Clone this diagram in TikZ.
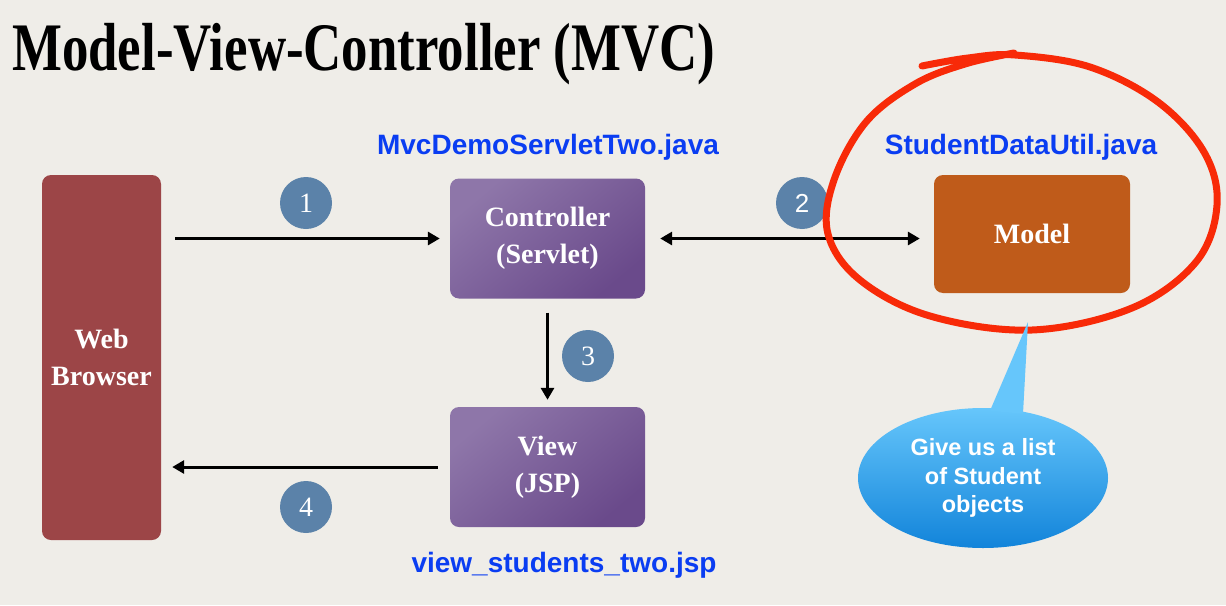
\documentclass[tikz,border=0pt]{standalone}
\usepackage{fontspec}
\setmainfont{Liberation Serif}
\setsansfont{Liberation Sans}
\usetikzlibrary{arrows.meta,shapes.geometric}
\definecolor{bgc}{HTML}{EFEDE8}
\definecolor{browserc}{HTML}{9C4547}
\definecolor{purpA}{HTML}{8E76A9}
\definecolor{purpB}{HTML}{6A4A8B}
\definecolor{modelc}{HTML}{BF5B1A}
\definecolor{circc}{HTML}{5B82A9}
\definecolor{bluetxt}{HTML}{0A3DF2}
\definecolor{redc}{HTML}{F82A08}
\definecolor{bubA}{HTML}{66C6FB}
\definecolor{bubB}{HTML}{1284DA}
\tikzset{
  boxtext/.style={text=white,font=\fontsize{28}{37}\selectfont\bfseries,align=center,inner sep=0pt},
  purplebox/.style={boxtext,rounded corners=9pt,minimum width=195pt,minimum height=120pt,
     top color=purpA,bottom color=purpB,shading angle=40},
  numcirc/.style={circle,fill=circc,minimum size=52pt,inner sep=0pt,text=white,font=\fontsize{28}{28}\selectfont},
  filelabel/.style={text=bluetxt,font=\sffamily\bfseries\fontsize{28}{28}\selectfont,inner sep=0pt},
  arr/.style={line width=3pt,black,-{Triangle[length=12pt,width=13pt]}},
  darr/.style={line width=3pt,black,{Triangle[length=12pt,width=13pt]}-{Triangle[length=12pt,width=13pt]}},
}
\begin{document}
\begin{tikzpicture}[x=1pt,y=-1pt]
\fill[bgc] (0,0) rectangle (1226,605);
\useasboundingbox (0,0) rectangle (1226,605);

\node[anchor=base west,inner sep=0pt] (title) at (12,70)
  {\resizebox{703pt}{\height}{\fontsize{68}{68}\selectfont\bfseries Model-View-Controller (MVC)}};

\node[boxtext,fill=browserc,rounded corners=9pt,minimum width=119pt,minimum height=365pt] (browser) at (101.5,357.5) {Web\\Browser};
\node[purplebox] (ctrl) at (547.5,238.5) {Controller\\(Servlet)};
\node[purplebox] (view) at (547.5,467) {View\\(JSP)};
\node[boxtext,fill=modelc,rounded corners=9pt,minimum width=196pt,minimum height=118pt] (model) at (1032,234) {Model};

\node[filelabel] (lctrl) at (548,147) {MvcDemoServletTwo.java};
\node[filelabel] (lmodel) at (1021,147) {StudentDataUtil.java};
\node[filelabel] (lview) at (564,565) {view\_students\_two.jsp};

\node[numcirc] (n1) at (306,203) {1};
\node[numcirc,font=\sffamily\fontsize{26}{26}\selectfont] (n2) at (802,203) {2};
\node[numcirc] (n3) at (588,356) {3};
\node[numcirc] (n4) at (306,507) {4};

\draw[arr,shorten <=14pt,shorten >=10pt] (browser.east |- ctrl.west) -- (ctrl.west);
\draw[darr,shorten <=15pt,shorten >=14pt] (ctrl.east) -- (ctrl.east -| model.west);
\draw[arr,shorten <=14pt,shorten >=7pt] (ctrl.south) -- (view.north);
\draw[arr,shorten <=12pt,shorten >=11pt] (view.west) -- (view.west -| browser.east);

% red hand-drawn ellipse
\draw[redc,line width=7pt,line cap=round,line join=round]
  plot[smooth,tension=0.6] coordinates {(922,66) (968,58) (1015,55) (1090,67) (1158,102) (1204,152) (1217,205)
   (1196,262) (1132,308) (1032,330) (930,316) (860,280) (828,234) (834,180) (866,122) (915,84) (965,64) (1014,53)};

% speech bubble
\coordinate (tip) at (1028,322);
\node[ellipse,minimum width=250pt,minimum height=140pt,top color=bubA,bottom color=bubB,inner sep=0pt,
      text=white,font=\sffamily\bfseries\fontsize{23.5}{28.5}\selectfont,align=center] (bubble) at (983,478)
      {Give us a list\\of Student\\objects};
\fill[bubA] ([xshift=7pt,yshift=-3pt]bubble.north) -- (tip) -- ([xshift=40pt,yshift=-6pt]bubble.north) -- cycle;
\end{tikzpicture}
\end{document}
